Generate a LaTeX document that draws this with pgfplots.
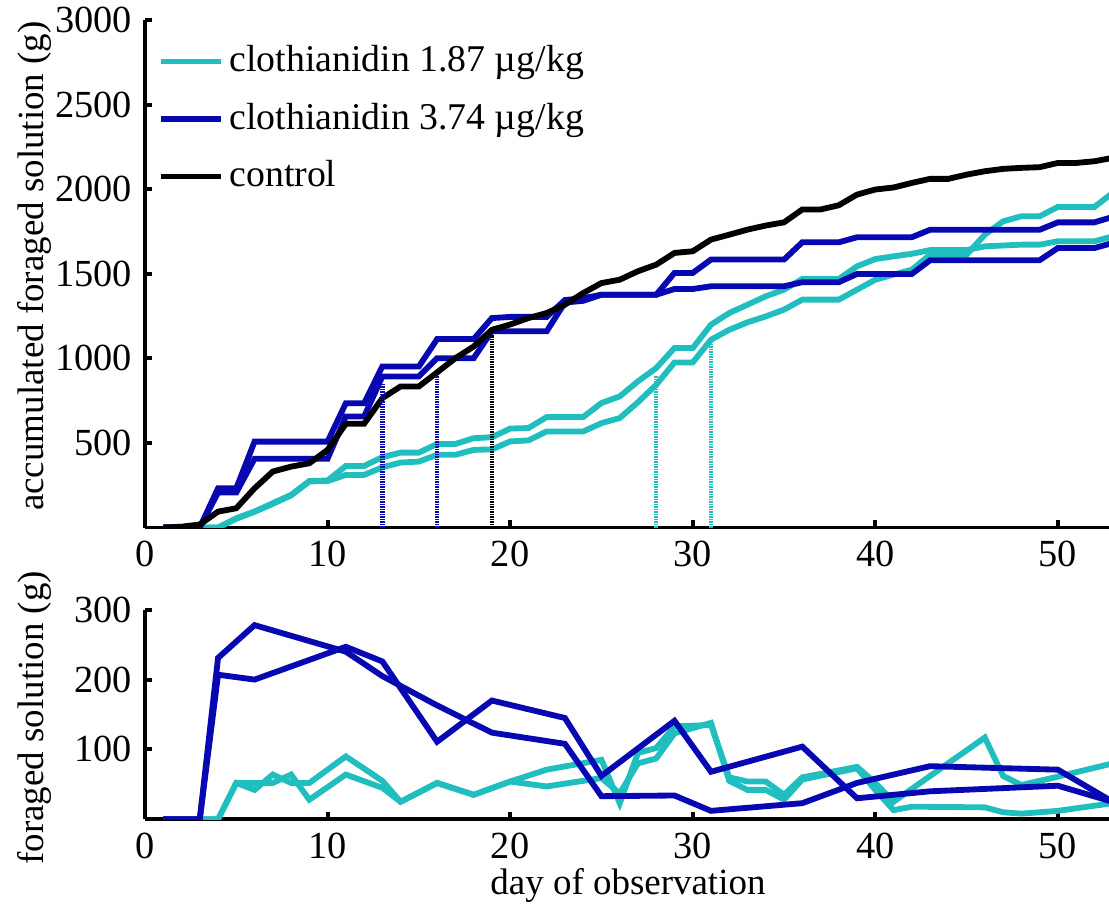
\documentclass[border=0pt]{standalone}
\usepackage{fontspec}
\setmainfont{Liberation Serif}
\usepackage{pgfplots}
\usepackage{pgfplotstable}
\pgfplotsset{compat=1.18}
\definecolor{cyn}{RGB}{32,190,190}
\definecolor{blu}{RGB}{8,8,178}

% accumulated foraged solution (g), by day
\pgfplotstableread{
d cu cl ba bb ct
1 0 0 0 0 0
2 0 0 0 0 5
3 0 0 0 0 18
4 0 0 232 207 94
5 55 52 232 207 114
6 94 94 508 407 232
7 144 140 508 407 331
8 193 190 508 407 360
9 275 272 508 407 380
10 278 275 508 407 459
11 364 311 735 656 613
12 364 311 735 656 613
13 416 356 952 893 765
14 443 384 952 893 834
15 443 390 952 893 834
16 494 430 1114 1001 917
17 494 430 1114 1001 1001
18 528 459 1114 1001 1070
19 534 462 1238 1160 1169
20 585 509 1245 1160 1200
21 588 515 1245 1160 1238
22 653 568 1245 1160 1268
23 653 568 1345 1330 1317
24 653 568 1355 1340 1386
25 736 617 1376 1376 1445
26 775 647 1376 1376 1465
27 864 741 1376 1376 1515
28 943 844 1376 1376 1554
29 1061 976 1410 1505 1623
30 1061 976 1410 1505 1633
31 1199 1110 1426 1584 1702
32 1268 1169 1426 1584 1731
33 1317 1213 1426 1584 1761
34 1367 1248 1426 1584 1785
35 1406 1288 1426 1584 1804
36 1469 1347 1450 1686 1880
37 1469 1347 1450 1686 1880
38 1469 1347 1450 1686 1905
39 1544 1406 1499 1716 1968
40 1587 1465 1499 1716 1998
41 1603 1495 1499 1716 2010
42 1618 1524 1499 1716 2037
43 1640 1613 1580 1760 2061
44 1640 1613 1580 1760 2061
45 1640 1613 1580 1760 2086
46 1662 1731 1580 1760 2106
47 1667 1810 1580 1760 2120
48 1672 1840 1580 1760 2126
49 1672 1840 1580 1760 2130
50 1692 1895 1652 1804 2155
51 1692 1895 1652 1804 2155
52 1692 1895 1652 1804 2165
53 1721 1978 1682 1836 2185
}\cum

% foraged solution (g) on measurement days
\pgfplotstableread{
d v
1 0
2 0
3 0
4 0
5 52
6 42
7 64
8 52
9 52
11 90
13 55
14 25
16 52
18 35
20 54
22 71
25 85
26 23
27 95
28 102
29 133
31 135
32 60
33 54
34 54
35 35
36 60
39 75
40 52
41 25
43 62
46 117
47 62
48 49
50 61
53 80
}\cyA

\pgfplotstableread{
d v
1 0
2 0
3 0
4 0
5 52
6 52
7 52
8 64
9 28
11 64
13 45
14 25
16 52
18 35
20 54
22 47
25 59
26 37
27 80
28 87
29 123
31 138
32 55
33 42
34 42
35 28
36 57
39 73
40 42
41 13
42 18
46 17
47 10
48 8
50 12
53 23
}\cyB

\pgfplotstableread{
d v
1 0
2 0
3 0
4 231
6 278
11 240
13 205
16 163
19 124
23 108
25 33
29 34
31 12
36 23
39 52
43 76
50 71
53 25
}\blA

\pgfplotstableread{
d v
1 0
2 0
3 0
4 207
6 200
11 247
13 226
16 111
19 170
23 145
25 62
29 141
31 68
36 104
39 30
43 40
50 48
53 25
}\blB

\begin{document}
\fontsize{13.8}{16}\selectfont
\begin{tikzpicture}
\pgfplotsset{
  myax/.style={
    scale only axis, width=347pt, xmin=0, xmax=52.8,
    axis lines=left, axis line style={-, line width=1.4pt},
    tick align=inside, major tick length=2.6pt,
    every tick/.style={black, line width=1.4pt},
    xtick={0,10,...,50},
    tick label style={font=\fontsize{13.8}{16}\selectfont},
    label style={font=\fontsize{13.3}{16}\selectfont},
    /pgf/number format/assume math mode=true,
    /pgf/number format/1000 sep={},
    scaled ticks=false,
    every axis plot/.append style={line width=2.1pt},
  },
  dots/.style={line width=1.6pt, dash pattern=on 0.45pt off 0.45pt, forget plot},
}
\begin{axis}[myax, at={(0pt,0pt)}, anchor=south west, height=182.7pt,
  ymin=0, ymax=3000, ytick={500,1000,...,3000},
  ylabel={accumulated foraged solution (g)},
  ylabel style={at={(axis description cs:-0.1151,0.515)}, anchor=center},
  legend style={draw=none, fill=none, at={(axis description cs:0,1)}, anchor=north west,
    xshift=3.5pt, yshift=-6pt, font=\fontsize{13.6}{16}\selectfont,
    row sep=5.2pt, inner sep=1pt},
  legend cell align=left,
  legend image code/.code={\draw[#1, line width=2.1pt] (0pt,0pt) -- (21.6pt,0pt);},
]
\addplot[cyn] table[x=d, y=cu] {\cum};
\addlegendentry{clothianidin 1.87 µg/kg}
\addplot[cyn, forget plot] table[x=d, y=cl] {\cum};
\addplot[blu] table[x=d, y=ba] {\cum};
\addlegendentry{clothianidin 3.74 µg/kg}
\addplot[blu, forget plot] table[x=d, y=bb] {\cum};
\addplot[black] table[x=d, y=ct] {\cum};
\addlegendentry{control}
\addplot[blu, dots] coordinates {(13,0) (13,855)};
\addplot[blu, dots] coordinates {(16,0) (16,900)};
\addplot[black, dots] coordinates {(19,0) (19,1140)};
\addplot[cyn, dots] coordinates {(28,0) (28,893)};
\addplot[cyn, dots] coordinates {(31,0) (31,1091)};
\end{axis}
\begin{axis}[myax, at={(0pt,-105pt)}, anchor=south west, height=75.4pt,
  ymin=0, ymax=300, ytick={100,200,300},
  ylabel={foraged solution (g)},
  ylabel style={at={(axis description cs:-0.1151,0.484)}, anchor=center},
  xlabel={day of observation},
  xlabel style={at={(axis description cs:0.501,-0.314)}, anchor=center},
]
\addplot[cyn] table[x=d, y=v] {\cyA};
\addplot[cyn] table[x=d, y=v] {\cyB};
\addplot[blu] table[x=d, y=v] {\blA};
\addplot[blu] table[x=d, y=v] {\blB};
\end{axis}
\pgfresetboundingbox
\path[use as bounding box] (-52.2pt,-135.5pt) rectangle (347pt,189.9pt);
\end{tikzpicture}
\end{document}
